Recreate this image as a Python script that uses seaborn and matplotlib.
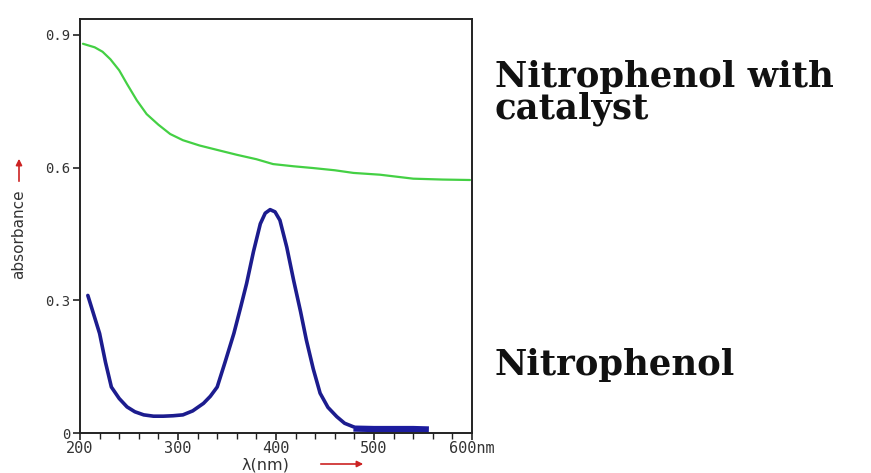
import matplotlib
matplotlib.use("Agg")
import matplotlib.pyplot as plt
import seaborn as sns
import pandas as pd
import numpy as np
from matplotlib.ticker import MultipleLocator

# Data
wl_cat = [203, 215, 223, 231, 240, 248, 258, 268, 280, 292, 305, 322, 340, 360, 380, 397, 418, 438, 460, 479, 506, 540, 570, 598]
abs_cat = [0.880, 0.872, 0.862, 0.845, 0.820, 0.789, 0.752, 0.721, 0.697, 0.676, 0.662, 0.650, 0.640, 0.629, 0.619, 0.608, 0.603, 0.599, 0.594, 0.588, 0.584, 0.575, 0.573, 0.572]

wl_np = [208, 214, 220, 226, 232, 240, 248, 256, 265, 275, 285, 295, 305, 315, 326, 333, 340, 348, 357, 364, 370, 377, 384, 389, 394, 399, 404, 411, 418, 425, 431, 438, 445, 453, 462, 470, 479]
abs_np = [0.311, 0.268, 0.225, 0.160, 0.104, 0.078, 0.059, 0.048, 0.041, 0.038, 0.038, 0.039, 0.041, 0.050, 0.067, 0.083, 0.104, 0.160, 0.225, 0.285, 0.338, 0.410, 0.473, 0.497, 0.505, 0.500, 0.481, 0.420, 0.345, 0.275, 0.210, 0.145, 0.090, 0.058, 0.037, 0.022, 0.014]

wl_tail = [479, 500, 520, 540, 556]
abs_tail = [0.010, 0.009, 0.009, 0.009, 0.008]

xticks = [200, 300, 400, 500, 600]
xtick_labels = ["200", "300", "400", "500", "600nm"]
yticks = [0, 0.3, 0.6, 0.9]
ytick_labels = ["0", "0.3", "0.6", "0.9"]

sns.set_style("ticks")
plt.rcParams['font.family'] = ['DejaVu Sans']

fig = plt.figure(figsize=(8.71, 4.73), dpi=100)
ax = fig.add_axes([80/871, 40/473, 392/871, 414/473])

df_cat = pd.DataFrame({"wl": wl_cat, "abs": abs_cat})
df_np = pd.DataFrame({"wl": wl_np, "abs": abs_np})
df_tail = pd.DataFrame({"wl": wl_tail, "abs": abs_tail})

sns.lineplot(data=df_cat, x="wl", y="abs", ax=ax, color="#44d044", linewidth=1.6, estimator=None, sort=True)
sns.lineplot(data=df_np, x="wl", y="abs", ax=ax, color="#1c1c8e", linewidth=2.6, estimator=None, sort=True)
sns.lineplot(data=df_tail, x="wl", y="abs", ax=ax, color="#1c1c9e", linewidth=4.5, estimator=None, sort=True,
             solid_capstyle="butt")

ax.set_xlim(200, 600)
ax.set_ylim(0, 0.936)
ax.set_xticks(xticks)
ax.set_xticklabels(xtick_labels, family="DejaVu Sans Mono", fontsize=11, color="#333333")
ax.xaxis.set_minor_locator(MultipleLocator(20))
ax.set_yticks(yticks)
ax.set_yticklabels(ytick_labels, family="DejaVu Sans Mono", fontsize=10, color="#333333")
ax.tick_params(axis="both", which="major", length=5, width=1.2, color="#222222", pad=2)
ax.tick_params(axis="x", which="major", pad=1)
ax.tick_params(axis="x", which="minor", length=4, width=1.0, color="#222222")
for s in ax.spines.values():
    s.set_linewidth(1.4)
    s.set_color("#222222")
    s.set_visible(True)
ax.set_xlabel("")
ax.set_ylabel("")

# axis labels with red arrows
fig.text(19/871, 1 - 234/473, "absorbance", rotation=90, ha="center", va="center", fontsize=11, color="#333333")
fig.patches.append(matplotlib.patches.FancyArrowPatch((19/871, 1 - 184/473), (19/871, 1 - 156/473),
                   transform=fig.transFigure, arrowstyle="-|>", mutation_scale=9, color="#cc2222", lw=1.2))
fig.text(265/871, 1 - 472/473, "λ(nm)", ha="center", va="bottom", fontsize=11.5, color="#333333")
fig.patches.append(matplotlib.patches.FancyArrowPatch((318/871, 1 - 464/473), (366/871, 1 - 464/473),
                   transform=fig.transFigure, arrowstyle="-|>", mutation_scale=9, color="#cc2222", lw=1.2))

# annotations
fig.text(495/871, 1 - 87/473, "Nitrophenol with", ha="left", va="baseline", fontsize=25.5,
         fontweight="bold", family="DejaVu Serif", color="#111111")
fig.text(495/871, 1 - 118/473, "catalyst", ha="left", va="baseline", fontsize=25.5,
         fontweight="bold", family="DejaVu Serif", color="#111111")
fig.text(495/871, 1 - 375/473, "Nitrophenol", ha="left", va="baseline", fontsize=25.5,
         fontweight="bold", family="DejaVu Serif", color="#111111")

fig.savefig("out.png", dpi=100)
